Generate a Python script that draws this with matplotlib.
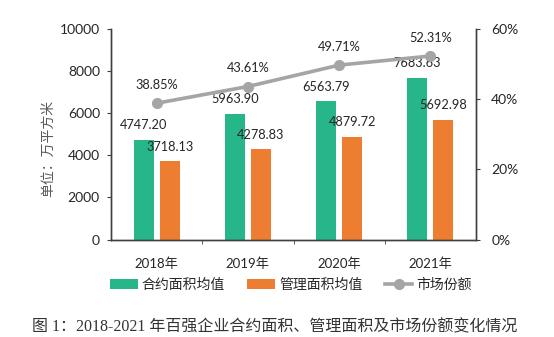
import matplotlib
matplotlib.use("Agg")
import matplotlib.pyplot as plt
import numpy as np
from matplotlib.ticker import FixedLocator, PercentFormatter

plt.rcParams["font.family"] = ["Lato", "Noto Sans CJK SC", "DejaVu Sans"]
plt.rcParams["axes.unicode_minus"] = False

GREEN = "#27B58A"
ORANGE = "#ED7D31"
GRAY = "#A5A5A5"
TEXT = "#262626"

years = ["2018年", "2019年", "2020年", "2021年"]
contract_area = [4747.20, 5963.90, 6563.79, 7683.63]
managed_area = [3718.13, 4278.83, 4879.72, 5692.98]
market_share = [38.85, 43.61, 49.71, 52.31]

fig = plt.figure(figsize=(5.54, 3.37), dpi=100)
ax = fig.add_axes([0.2004, 0.2893, 0.6588, 0.6246])
ax2 = ax.twinx()

x = np.arange(len(years))
w = 0.22
off = 0.143
b1 = ax.bar(x - off, contract_area, w, color=GREEN, label="合约面积均值", zorder=2)
b2 = ax.bar(x + off, managed_area, w, color=ORANGE, label="管理面积均值", zorder=2)
ln, = ax2.plot(x, market_share, color=GRAY, lw=2.6, marker="o", ms=7,
               label="市场份额", zorder=3)

for xi, v in zip(x - off, contract_area):
    ax.annotate(f"{v:.2f}", (xi, v), xytext=(0, 10.5), textcoords="offset points",
                ha="center", va="center", fontsize=9.2, color=TEXT)
for xi, v in zip(x + off, managed_area):
    ax.annotate(f"{v:.2f}", (xi, v), xytext=(0, 10.5), textcoords="offset points",
                ha="center", va="center", fontsize=9.2, color=TEXT)
for xi, v in zip(x, market_share):
    ax2.annotate(f"{v:.2f}%", (xi, v), xytext=(0, 13), textcoords="offset points",
                 ha="center", va="center", fontsize=9.2, color=TEXT)

ax.set_xlim(-0.5, 3.5)
ax.set_ylim(0, 10000)
ax.set_yticks(range(0, 10001, 2000))
ax2.set_ylim(0, 60)
ax2.set_yticks([0, 20, 40, 60])
ax2.yaxis.set_major_formatter(PercentFormatter(decimals=0))

ax.set_xticks(x)
ax.set_xticklabels(years)
ax.xaxis.set_minor_locator(FixedLocator([0.5, 1.5, 2.5]))
ax.tick_params(axis="x", which="major", length=0, pad=13, labelsize=9.5, labelcolor=TEXT)
ax.tick_params(axis="x", which="minor", length=3, direction="out", color="#404040")
ax.tick_params(axis="y", length=3, pad=5, labelsize=10, labelcolor=TEXT, color="#404040")
ax2.tick_params(axis="y", length=3, pad=8, labelsize=10, labelcolor=TEXT, color="#404040")

for a in (ax, ax2):
    a.spines["top"].set_visible(False)
    for s in ("left", "right", "bottom"):
        a.spines[s].set_color("#404040")
        a.spines[s].set_linewidth(1.0)

fig.text(48 / 554, 1 - 148 / 337, "单位：万平方米", rotation=90, ha="center", va="center",
         fontsize=10, color="#595959", family=["Noto Sans CJK SC"])

fig.legend(handles=[b1, b2, ln], loc="center", bbox_to_anchor=(291 / 554, 0.157),
           ncol=3, frameon=False, fontsize=10, handlelength=2.0, handletextpad=0.3,
           columnspacing=1.6, labelcolor=TEXT)

fig.text(32 / 554, 1 - 327 / 337,
         "图 1：2018-2021 年百强企业合约面积、管理面积及市场份额变化情况",
         ha="left", va="center", fontsize=11.5, color="#333333",
         family=["Liberation Serif", "Noto Sans CJK SC"])

fig.savefig("out.png", dpi=100, facecolor="white")
